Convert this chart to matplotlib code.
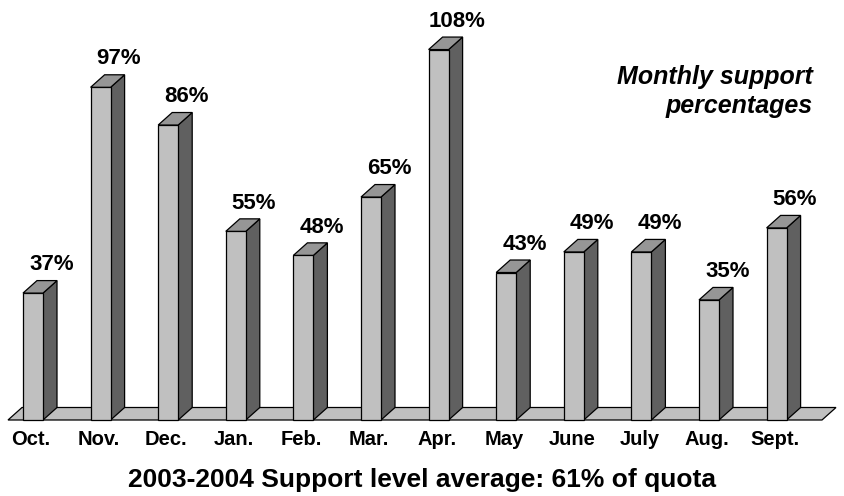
import matplotlib
matplotlib.use("Agg")
import matplotlib.pyplot as plt
from matplotlib.patches import Polygon

months = ["Oct.", "Nov.", "Dec.", "Jan.", "Feb.", "Mar.", "Apr.", "May", "June", "July", "Aug.", "Sept."]
support = [37, 97, 86, 55, 48, 65, 108, 43, 49, 49, 35, 56]
labels = [f"{v}%" for v in support]

FONT = "Liberation Sans"
W, H = 844, 496
fig = plt.figure(figsize=(W / 100, H / 100), dpi=100)
ax = fig.add_axes([0, 0, 1, 1])

# scale: px per category unit and px per percent
px_x = 67.6
px_y = 3.43
x0_px = 33.0   # pixel of category 0 centre
y0_px = 420.0  # pixel of value 0
ax.set_xlim(-x0_px / px_x, (W - x0_px) / px_x)
ax.set_ylim((y0_px - H) / px_y, y0_px / px_y)
ax.axis("off")

bw = 20 / px_x / 2          # half bar width
ddx = 14 / px_x             # depth offset x
ddy = 12.5 / px_y           # depth offset y

front_c = "#C0C0C0"
side_c = "#606060"
top_c = "#969696"
lw = 0.9

# floor
fl, fr = (8 - x0_px) / px_x, (822 - x0_px) / px_x
floor = Polygon([(fl, 0), (fr, 0), (fr + ddx, ddy), (fl + ddx, ddy)],
                closed=True, facecolor=front_c, edgecolor="black", lw=lw, zorder=1)
ax.add_patch(floor)

for i, v in enumerate(support):
    l, r = i - bw, i + bw
    front = Polygon([(l, 0), (r, 0), (r, v), (l, v)], closed=True,
                    facecolor=front_c, edgecolor="black", lw=lw, zorder=3)
    side = Polygon([(r, 0), (r + ddx, ddy), (r + ddx, v + ddy), (r, v)], closed=True,
                   facecolor=side_c, edgecolor="black", lw=lw, zorder=2)
    top = Polygon([(l, v), (r, v), (r + ddx, v + ddy), (l + ddx, v + ddy)], closed=True,
                  facecolor=top_c, edgecolor="black", lw=lw, zorder=3)
    for p in (side, front, top):
        ax.add_patch(p)
    ax.text(i + 0.27, v + ddy + 3.0, labels[i], ha="center", va="baseline",
            fontsize=16, fontweight="bold", family=FONT, zorder=5)
    ax.text(i - 0.03, -5.6, months[i], ha="center", va="center",
            fontsize=14.5, fontweight="bold", family=FONT)

fig.text(813 / W, 1 - 84 / H, "Monthly support", ha="right", va="baseline",
         fontsize=18, fontweight="bold", style="italic", family=FONT)
fig.text(813 / W, 1 - 113 / H, "percentages", ha="right", va="baseline",
         fontsize=18, fontweight="bold", style="italic", family=FONT)
fig.text(422 / W, 1 - 480 / H, "2003-2004 Support level average: 61% of quota",
         ha="center", va="center", fontsize=19, fontweight="bold", family=FONT)

fig.savefig("out.png", dpi=100)
